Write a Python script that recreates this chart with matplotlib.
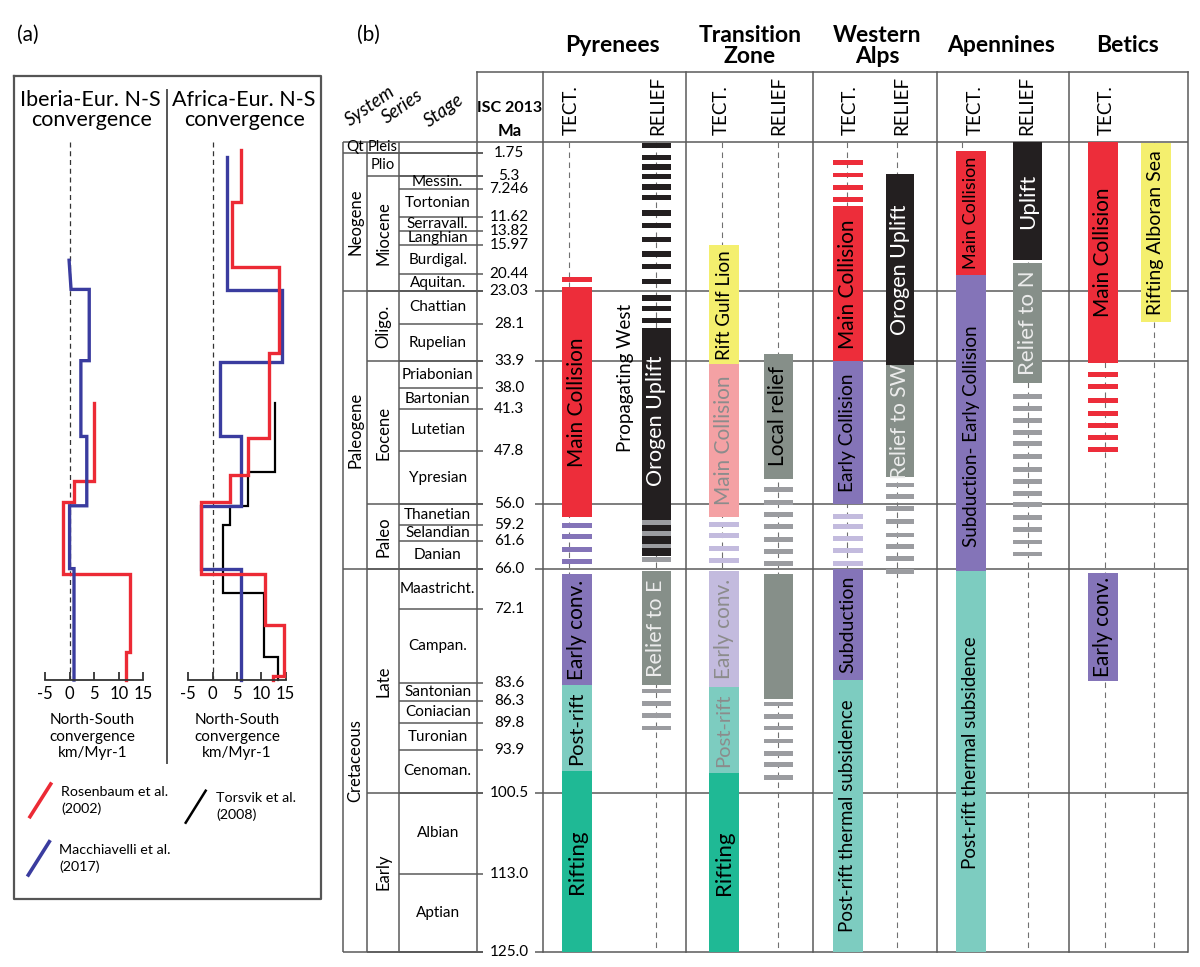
import matplotlib
matplotlib.use("Agg")
import matplotlib.pyplot as plt

plt.rcParams['font.family'] = ['Lato', 'DejaVu Sans']

# ============================ DATA ============================
# ---- panel (a): N-S convergence (km/Myr) as step curves, ages in Ma ----
conv_ticks = [-5, 0, 5, 10, 15]
iberia_rosenbaum_ages = [40.3, 52.3, 55.6, 66.7, 78.8, 83.1]
iberia_rosenbaum_vals = [5.0, 0.9, -1.4, 12.3, 11.5]
iberia_macch_ages = [18.3, 22.8, 33.8, 45.5, 56.2, 65.9, 83.1]
iberia_macch_vals = [0.3, 4.0, 2.3, 3.5, 0.0, 0.9]
iberia_macch_start = -0.1
africa_rosenbaum_ages = [1.3, 9.3, 19.4, 32.6, 45.8, 51.5, 55.6, 66.7, 74.6, 82.4, 83.1]
africa_rosenbaum_vals = [5.9, 3.9, 13.7, 11.5, 7.2, 3.6, -2.3, 10.8, 14.7, 12.4]
africa_macch_ages = [2.4, 22.9, 34.0, 45.5, 56.2, 65.9, 83.1]
africa_macch_vals = [3.0, 14.2, 1.6, 5.8, -2.3, 5.9]
africa_torsvik_ages = [40.3, 51.0, 56.2, 59.2, 69.6, 79.6, 83.1]
africa_torsvik_vals = [12.9, 7.2, 3.6, 2.1, 10.5, 13.4]

# ---- panel (b): chronostratigraphy (ISC 2013) ----
system_names = ["Qt", "Neogene", "Paleogene", "Cretaceous"]
system_bounds = [0.0, 1.75, 23.03, 66.0, 125.0]
series_names = ["Pleis", "Plio", "Miocene", "Oligo.", "Eocene", "Paleo", "Late", "Early"]
series_bounds = [0.0, 1.75, 5.3, 23.03, 33.9, 56.0, 66.0, 100.5, 125.0]
stage_names = ["Messin.", "Tortonian", "Serravall.", "Langhian", "Burdigal.", "Aquitan.",
               "Chattian", "Rupelian", "Priabonian", "Bartonian", "Lutetian", "Ypresian",
               "Thanetian", "Selandian", "Danian", "Maastricht.", "Campan.", "Santonian",
               "Coniacian", "Turonian", "Cenoman.", "Albian", "Aptian"]
stage_bounds = [5.3, 7.246, 11.62, 13.82, 15.97, 20.44, 23.03, 28.1, 33.9, 38.0, 41.3, 47.8,
                56.0, 59.2, 61.6, 66.0, 72.1, 83.6, 86.3, 89.8, 93.9, 100.5, 113.0, 125.0]
isc_ages = [1.75, 5.3, 7.246, 11.62, 13.82, 15.97, 20.44, 23.03, 28.1, 33.9, 38.0, 41.3, 47.8,
            56.0, 59.2, 61.6, 66.0, 72.1, 83.6, 86.3, 89.8, 93.9, 100.5, 113.0, 125.0]
isc_labels = ["1.75", "5.3", "7.246", "11.62", "13.82", "15.97", "20.44", "23.03", "28.1",
              "33.9", "38.0", "41.3", "47.8", "56.0", "59.2", "61.6", "66.0", "72.1", "83.6",
              "86.3", "89.8", "93.9", "100.5", "113.0", "125.0"]
major_ages = [0.0, 23.03, 33.9, 56.0, 66.0, 100.5, 125.0]
region_names = ["Pyrenees", "Transition\nZone", "Western\nAlps", "Apennines", "Betics"]

# segments: (label, top Ma, base Ma, kind) ; dashes: (kind, centre Ma)
pyr_tect = [("Main Collision", 22.4, 57.9, "collision"),
            ("Early conv.", 66.8, 83.8, "convergence"),
            ("Post-rift", 83.8, 97.2, "postrift"),
            ("Rifting", 97.2, 125.0, "rifting")]
pyr_tect_dashes = [("collision", 21.3)] + [("convergence", a) for a in [59.2, 61.0, 62.9, 64.8]]
pyr_relief = [("Orogen Uplift", 28.8, 64.0, "uplift"),
              ("Relief to E", 66.3, 83.8, "relief")]
pyr_relief_dashes = ([("uplift", a) for a in [0.55, 2.45, 3.9, 5.4, 7.0, 8.65, 11.0, 12.9, 15.1,
                                              17.35, 19.25, 21.6, 24.1, 25.75, 27.6]] +
                     [("relief", a) for a in [58.8, 60.5, 62.4, 64.45, 84.8, 86.7, 88.55, 90.5]])

tz_tect = [("Rift Gulf Lion", 16.0, 34.3, "yellow"),
           ("Main Collision", 34.3, 58.0, "collision_faded"),
           ("Early conv.", 66.3, 84.2, "convergence_faded"),
           ("Post-rift", 84.2, 97.5, "postrift"),
           ("Rifting", 97.5, 125.0, "rifting")]
tz_tect_dashes = [("convergence_faded", a) for a in [59.05, 60.8, 62.8, 64.7]]
tz_relief = [("Local relief", 32.8, 52.0, "relief"),
             ("", 66.7, 86.0, "relief")]
tz_relief_dashes = [("relief", a) for a in [53.7, 55.65, 57.6, 59.4, 61.4, 63.3, 65.15,
                                            86.8, 88.7, 90.5, 92.5, 94.4, 96.2, 98.1]]

wa_tect = [("Main Collision", 10.0, 33.9, "collision"),
           ("Early Collision", 33.9, 55.9, "convergence"),
           ("Subduction", 66.0, 83.1, "convergence"),
           ("Post-rift thermal subsidence", 83.1, 125.0, "postrift")]
wa_tect_dashes = ([("collision", a) for a in [3.25, 5.15, 7.05, 8.9]] +
                  [("convergence_faded", a) for a in [57.8, 59.45, 61.2, 63.15, 65.05]])
wa_relief = [("Orogen Uplift", 5.0, 34.5, "uplift"),
             ("Relief to SW", 34.5, 51.8, "relief")]
wa_relief_dashes = [("relief", a) for a in [53.0, 54.8, 56.6, 58.65, 60.7, 62.45, 64.4, 66.3]]

ap_tect = [("Main Collision", 1.4, 20.5, "collision"),
           ("Subduction- Early Collision", 20.5, 66.3, "convergence"),
           ("Post-rift thermal subsidence", 66.3, 125.0, "postrift")]
ap_tect_dashes = []
ap_relief = [("Uplift", 0.0, 18.3, "uplift"),
             ("Relief to N", 18.8, 37.2, "relief")]
ap_relief_dashes = [("relief", a) for a in [39.35, 41.15, 43.05, 44.9, 46.65, 48.6, 50.55,
                                            52.45, 54.3, 56.0, 57.95, 59.9, 61.8, 63.65]]

bt_tect = [("Main Collision", 0.0, 34.2, "collision"),
           ("Early conv.", 66.5, 83.2, "convergence")]
bt_tect_dashes = [("collision", a) for a in [35.9, 37.8, 40.0, 41.9, 43.85, 45.7, 47.5]]
bt_rift = [("Rifting Alboran Sea", 0.25, 27.8, "yellow")]
bt_rift_dashes = []

# ============================ STYLE / LAYOUT ============================
W, H = 1200, 967
Y0, Y125 = 141.7, 951.5        # pixel rows of 0 Ma and 125 Ma
GRID = "#5a5a5a"
RED, BLUE = "#ec2a35", "#3a3c9f"
KC = {"collision": "#ed2d3a", "collision_faded": "#f4a1a4", "convergence": "#8474b8",
      "convergence_faded": "#c3bbde", "postrift": "#7dccc0", "rifting": "#1fb995",
      "uplift": "#231f20", "relief": "#868f89", "yellow": "#f4ef6e"}
DASH_C = {"collision": "#ed2d3a", "convergence": "#8474b8", "convergence_faded": "#c3bbde",
          "uplift": "#231f20", "relief": "#9b9ca0"}

fig = plt.figure(figsize=(12, 9.67), dpi=100)
ov = fig.add_axes([0, 0, 1, 1], zorder=0)
ov.set_xlim(0, W); ov.set_ylim(H, 0); ov.axis('off')


def px_axes(x0, y0, x1, y1, z=1):
    return fig.add_axes([x0 / W, 1 - y1 / H, (x1 - x0) / W, (y1 - y0) / H], zorder=z)


def ma_px(ma):
    return Y0 + (Y125 - Y0) * ma / 125.0


# ------------------------- panel (a) -------------------------
ov.text(28, 35, "(a)", ha='center', va='center', fontsize=15)
ov.plot([14, 320.7, 320.7, 14, 14], [75.7, 75.7, 899.3, 899.3, 75.7], color="#555555", lw=1.6)
ov.plot([166.7, 166.7], [90, 763], color="#555555", lw=1.4)
ov.text(90, 100, "Iberia-Eur. N-S", ha='center', va='center', fontsize=15.5)
ov.text(92, 120, "convergence", ha='center', va='center', fontsize=15.5)
ov.text(243.5, 100, "Africa-Eur. N-S", ha='center', va='center', fontsize=15.5)
ov.text(245, 120, "convergence", ha='center', va='center', fontsize=15.5)


def step_xy(ages, vals, start=None):
    xs, ys = [], []
    for i, v in enumerate(vals):
        xs += [start if (i == 0 and start is not None) else v, v]
        ys += [ages[i], ages[i + 1]]
    return xs, ys


def conv_axes(x0, x1, xlab_c):
    ax = px_axes(x0, Y0, x1, ma_px(83.1), z=2)
    ax.set_xlim(-5, 15); ax.set_ylim(83.1, 0)
    ax.patch.set_alpha(0)
    for s in ['top', 'left', 'right']:
        ax.spines[s].set_visible(False)
    ax.spines['bottom'].set_linewidth(1.3)
    ax.spines['bottom'].set_color('#333333')
    ax.set_yticks([])
    ax.set_xticks(conv_ticks)
    ax.set_xticklabels([str(t) for t in conv_ticks])
    ax.tick_params(axis='x', direction='in', length=6, width=1.3, color='#333333',
                   labelsize=12, pad=4)
    ax.vlines(0, 0, 83.1, colors='#333333', linestyles=(0, (4, 3)), lw=0.9)
    for k, t in enumerate(["North-South", "convergence", "km/Myr-1"]):
        ov.text(xlab_c, 720 + 16.5 * k, t, ha='center', va='center', fontsize=11)
    return ax


axL = conv_axes(45, 143.3, 92.5)
xs, ys = step_xy(iberia_rosenbaum_ages, iberia_rosenbaum_vals)
axL.plot(xs, ys, color=RED, lw=2.4, solid_joinstyle='miter', clip_on=False)
xs, ys = step_xy(iberia_macch_ages, iberia_macch_vals, iberia_macch_start)
axL.plot(xs, ys, color=BLUE, lw=2.4, solid_joinstyle='miter', clip_on=False)

axR = conv_axes(188.3, 285.7, 237)
xs, ys = step_xy(africa_torsvik_ages, africa_torsvik_vals)
axR.plot(xs, ys, color='black', lw=1.6, solid_joinstyle='miter', clip_on=False)
xs, ys = step_xy(africa_macch_ages, africa_macch_vals)
axR.plot(xs, ys, color=BLUE, lw=2.4, solid_joinstyle='miter', clip_on=False)
xs, ys = step_xy(africa_rosenbaum_ages, africa_rosenbaum_vals)
axR.plot(xs, ys, color=RED, lw=2.4, solid_joinstyle='miter', clip_on=False)

# legend
ov.plot([30, 50.7], [816.7, 784], color=RED, lw=2.6)
ov.text(61, 791.7, "Rosenbaum et al.", va='center', fontsize=10.3)
ov.text(61, 808.3, "(2002)", va='center', fontsize=10.3)
ov.plot([185.7, 205.7], [822.7, 790.7], color='black', lw=1.8)
ov.text(216, 798.3, "Torsvik et al.", va='center', fontsize=10.3)
ov.text(216, 815, "(2008)", va='center', fontsize=10.3)
ov.plot([28.3, 49.3], [875, 841.7], color=BLUE, lw=2.6)
ov.text(59.3, 850, "Macchiavelli et al.", va='center', fontsize=10.3)
ov.text(59.3, 866.7, "(2017)", va='center', fontsize=10.3)

# ------------------------- panel (b) -------------------------
ov.text(368, 35, "(b)", ha='center', va='center', fontsize=15)
title_x = [612, 750, 877, 1001, 1128]
for name, xc in zip(region_names, title_x):
    ov.text(xc, 46, name, ha='center', va='center', fontsize=16.5, fontweight='bold',
            linespacing=1.05)

# header frame and column separators
col_lines = [476.7, 543.3, 685.7, 813.0, 936.7, 1069.3, 1187.7]
ov.plot([476.7, 1187.7], [72, 72], color=GRID, lw=1.1)
for xv in col_lines:
    ov.plot([xv, xv], [72, Y125], color=GRID, lw=1.1)

ov.text(370, 106, "System", rotation=35, ha='center', va='center', fontsize=13.5, style='italic')
ov.text(402, 106, "Series", rotation=35, ha='center', va='center', fontsize=13.5, style='italic')
ov.text(444, 110, "Stage", rotation=35, ha='center', va='center', fontsize=13.5, style='italic')
ov.text(510, 108, "ISC 2013", ha='center', va='center', fontsize=11.5, fontweight='bold')
ov.text(510, 131, "Ma", ha='center', va='center', fontsize=12, fontweight='bold')

sub_heads = [(571.5, "TECT."), (658, "RELIEF"), (721.5, "TECT."), (779, "RELIEF"),
             (850, "TECT."), (901.5, "RELIEF"), (975, "TECT."), (1026.5, "RELIEF"),
             (1106.5, "TECT.")]
for xc, t in sub_heads:
    ov.text(xc, 135, t, rotation=90, ha='center', va='bottom', fontsize=13.5)

axb = px_axes(0, Y0, W, Y125, z=2)
axb.set_xlim(0, W); axb.set_ylim(125, 0); axb.axis('off')

# stratigraphic table
for xv in [343.0, 367.3, 398.7]:
    axb.vlines(xv, 0, 125, colors=GRID, lw=1.1, clip_on=False)
axb.hlines(0, 343, 1187.7, colors=GRID, lw=1.1, clip_on=False, zorder=1)
for a in system_bounds[1:]:
    axb.hlines(a, 343, 483, colors=GRID, lw=1.1, clip_on=False)
for a in series_bounds[1:]:
    axb.hlines(a, 367.3, 483, colors=GRID, lw=1.1, clip_on=False)
for a in stage_bounds:
    axb.hlines(a, 398.7, 483, colors=GRID, lw=1.1, clip_on=False)
for a in major_ages[1:]:
    axb.hlines(a, 535, 1187.7, colors=GRID, lw=1.1, clip_on=False, zorder=1)

for i, nm in enumerate(system_names):
    yc = (system_bounds[i] + system_bounds[i + 1]) / 2
    if nm == "Qt":
        axb.text(355, yc, nm, ha='center', va='center', fontsize=11)
    else:
        axb.text(355.5, yc, nm, rotation=90, ha='center', va='center', fontsize=12)
for i, nm in enumerate(series_names):
    yc = (series_bounds[i] + series_bounds[i + 1]) / 2
    if nm in ("Pleis", "Plio"):
        axb.text(383, yc, nm, ha='center', va='center', fontsize=10.5)
    else:
        axb.text(383.5, yc, nm, rotation=90, ha='center', va='center', fontsize=12)
for i, nm in enumerate(stage_names):
    yc = (stage_bounds[i] + stage_bounds[i + 1]) / 2
    axb.text(437.7, yc, nm, ha='center', va='center', fontsize=11)
for a, lab in zip(isc_ages, isc_labels):
    axb.text(509, a, lab, ha='center', va='center', fontsize=11)

# dashed centre lines of each column
for xv in [569.3, 656, 721.7, 777.7, 847, 896.7, 962, 1028, 1104.7, 1154]:
    axb.vlines(xv, 0, 125, colors="#707070", linestyles=(0, (5, 4)), lw=0.8, zorder=1)

label_at = {("pyr_relief", "Orogen Uplift"): 43.0,
            ("ap_tect", "Subduction- Early Collision"): 45.5,
            ("ap_tect", "Post-rift thermal subsidence"): 94.3}
text_col = {"uplift": "white", "relief": "#ececec", "collision_faded": "#8c8c8c",
            "convergence_faded": "#8c8c8c"}
font_size = {"Main Collision": 15, "Early conv.": 15, "Post-rift": 14.5, "Rifting": 16,
             "Orogen Uplift": 15.5, "Relief to E": 15.5, "Rift Gulf Lion": 13.5,
             "Local relief": 15, "Early Collision": 13.8, "Subduction": 14,
             "Post-rift thermal subsidence": 13.5, "Relief to SW": 15,
             "Subduction- Early Collision": 13.5, "Uplift": 16, "Relief to N": 16,
             "Rifting Alboran Sea": 14}


def draw_col(key, segs, dashes, xc, w, dash_h=0.75):
    for lab, top, base, kind in segs:
        axb.bar(xc, base - top, bottom=top, width=w, color=KC[kind], lw=0, zorder=3)
        if lab:
            yl = label_at.get((key, lab), (top + base) / 2)
            tc = text_col.get(kind, "black")
            if lab == "Local relief":
                tc = "black"
            if key == "tz_tect" and lab == "Post-rift":
                tc = "#8c8c8c"
            fs = font_size.get(lab, 14)
            if key == "ap_tect" and lab == "Main Collision":
                fs = 13
            axb.text(xc, yl, lab, rotation=90, ha='center', va='center', color=tc,
                     fontsize=fs, zorder=5)
    for kind, c in dashes:
        h = 0.85 if kind == "uplift" else dash_h
        axb.bar(xc, h, bottom=c - h / 2, width=w, color=DASH_C[kind], lw=0, zorder=4)


draw_col("pyr_tect", pyr_tect, pyr_tect_dashes, 577, 29.5)
draw_col("pyr_relief", pyr_relief, pyr_relief_dashes, 656.3, 28.8)
draw_col("tz_tect", tz_tect, tz_tect_dashes, 724, 30)
draw_col("tz_relief", tz_relief, tz_relief_dashes, 778, 29)
draw_col("wa_tect", wa_tect, wa_tect_dashes, 847.7, 30)
draw_col("wa_relief", wa_relief, wa_relief_dashes, 899.8, 28.6)
draw_col("ap_tect", ap_tect, ap_tect_dashes, 971, 29.7)
draw_col("ap_relief", ap_relief, ap_relief_dashes, 1027.8, 29)
draw_col("bt_tect", bt_tect, bt_tect_dashes, 1103.3, 30)
draw_col("bt_rift", bt_rift, bt_rift_dashes, 1156, 29.7)

axb.text(625, 36.5, "Propagating West", rotation=90, ha='center', va='center',
         fontsize=13.5, zorder=5)

fig.savefig("out.png", dpi=100)
